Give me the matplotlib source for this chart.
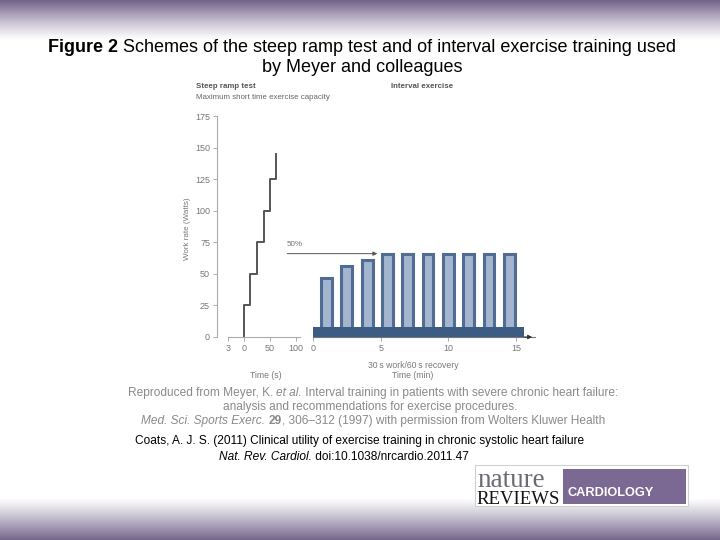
import numpy as np
import matplotlib
matplotlib.use('Agg')
import matplotlib.pyplot as plt
from matplotlib.patches import Rectangle

# --- data ---
ramp_time = [0, 12, 25, 38, 50, 62, 62]          # seconds
ramp_watts = [0, 25, 50, 75, 100, 125, 145]      # watts
ramp_xticks = [-30, 0, 50, 100]
ramp_xlabels = ['3', '0', '50', '100']
watt_ticks = [0, 25, 50, 75, 100, 125, 150, 175]

interval_centres = [1.0, 2.5, 4.0, 5.5, 7.0, 8.5, 10.0, 11.5, 13.0, 14.5]   # minutes
interval_watts = [47, 56, 61, 66, 66, 66, 66, 66, 66, 66]
base_length = 15.6     # minutes
base_watts = 8
interval_xticks = [0, 5, 10, 15]

W, H = 720, 540
fig = plt.figure(figsize=(7.2, 5.4), dpi=100)
SANS = ['Liberation Sans', 'DejaVu Sans']


def fx(px):
    return px / W


def fy(py):
    return 1 - py / H


# background gradient (purple bands top and bottom)
bg = fig.add_axes([0, 0, 1, 1], zorder=-10)
rows = np.arange(H)
top = np.clip(1 - rows / 40.0, 0, 1) ** 1.2
bot = np.clip((rows - 498) / 42.0, 0, 1) ** 1.1
f = np.maximum(top, bot)[:, None, None]
purple = np.array([0.45, 0.39, 0.54])
img = (1 - f) + f * purple
bg.imshow(np.repeat(img, 2, axis=1), aspect='auto', extent=[0, 1, 0, 1])
bg.axis('off')

grey = '#777777'

# --- left panel: steep ramp test ---
axL = fig.add_axes([fx(217), fy(337), fx(300 - 217), 221 / H])
axL.step(ramp_time, ramp_watts, where='pre', color='#555555', lw=1.4)
axL.set_xlim(-52, 108)
axL.set_ylim(0, 175)
axL.set_yticks(watt_ticks)
axL.set_xticks(ramp_xticks)
axL.set_xticklabels(ramp_xlabels)
for s in ['top', 'right']:
    axL.spines[s].set_visible(False)
axL.spines['bottom'].set_bounds(-30, 108)
for s in ['left', 'bottom']:
    axL.spines[s].set_color('#aaaaaa')
    axL.spines[s].set_linewidth(0.8)
axL.tick_params(colors='#aaaaaa', labelcolor=grey, labelsize=6.5, length=3, width=0.7, pad=2)
for t in axL.get_xticklabels() + axL.get_yticklabels():
    t.set_family(SANS)
axL.patch.set_alpha(0)

# --- right panel: interval exercise ---
axR = fig.add_axes([fx(313), fy(337), fx(535 - 313), 221 / H])
axR.bar(interval_centres, interval_watts, width=0.8, color='#a3b5cf',
        edgecolor='#506c92', linewidth=2.2, zorder=2)
axR.bar(0, base_watts, width=base_length, align='edge', color='#3c5c84', zorder=3)
axR.set_xlim(0, 16.4)
axR.set_ylim(0, 175)
axR.set_yticks([])
axR.set_xticks(interval_xticks)
for s in ['top', 'right', 'left']:
    axR.spines[s].set_visible(False)
axR.spines['bottom'].set_color('#777777')
axR.spines['bottom'].set_linewidth(0.8)
axR.tick_params(colors='#aaaaaa', labelcolor=grey, labelsize=6.5, length=3, width=0.7, pad=2)
for t in axR.get_xticklabels():
    t.set_family(SANS)
axR.annotate('', xy=(1.0, 0), xytext=(0.94, 0), xycoords='axes fraction',
             arrowprops=dict(arrowstyle='-|>', color='#333333', lw=0.8, mutation_scale=6),
             annotation_clip=False)
axR.annotate('', xy=(4.75, interval_watts[-1]), xytext=(-1.9, interval_watts[-1]),
             arrowprops=dict(arrowstyle='-|>', color='#555555', lw=0.7, mutation_scale=6,
                             shrinkA=0, shrinkB=0),
             annotation_clip=False)
axR.patch.set_alpha(0)

# --- chart texts ---
fig.text(fx(196), fy(87), 'Steep ramp test', fontsize=5.7, fontweight='bold', color='#555555',
         family=SANS, va='center')
fig.text(fx(196), fy(97.5), 'Maximum short time exercise capacity', fontsize=5.7, color='#666666',
         family=SANS, va='center')
fig.text(fx(391), fy(87), 'Interval exercise', fontsize=5.7, fontweight='bold', color='#555555',
         family=SANS, va='center')
fig.text(fx(187), fy(229), 'Work rate (Watts)', fontsize=5.8, color=grey, rotation=90,
         family=SANS, va='center', ha='center')
fig.text(fx(295), fy(244), '50%', fontsize=5.8, color=grey, family=SANS, va='center', ha='center')
fig.text(fx(266), fy(375), 'Time (s)', fontsize=6.2, color=grey, family=SANS, va='center', ha='center')
fig.text(fx(413), fy(366), '30\u2009s work/60\u2009s recovery', fontsize=6.2, color=grey,
         family=SANS, va='center', ha='center')
fig.text(fx(413), fy(376), 'Time (min)', fontsize=6.2, color=grey, family=SANS, va='center', ha='center')

renderer = fig.canvas.get_renderer()


def width_of(s, **kw):
    a = fig.text(0, 0, '|' + s + '|', **kw)
    b = fig.text(0, 0, '||', **kw)
    w = a.get_window_extent(renderer).width - b.get_window_extent(renderer).width
    a.remove()
    b.remove()
    return w


def line(cx, py, parts, size, color):
    items = []
    for s, w, st in parts:
        kw = dict(fontsize=size, fontweight=w, fontstyle=st, color=color, family=SANS)
        items.append((s, kw, width_of(s, **kw)))
    total = sum(i[2] for i in items)
    x = cx - total / 2
    for s, kw, wd in items:
        fig.text(fx(x), fy(py), s, va='center', ha='left', **kw)
        x += wd


# title
line(362, 47, [('Figure 2', 'bold', 'normal'),
               (' Schemes of the steep ramp test and of interval exercise training used', 'normal', 'normal')],
     13, 'black')
line(362, 67, [('by Meyer and colleagues', 'normal', 'normal')], 13, 'black')

# source lines
src = '#8a8a8a'
fs = 8.6
line(373, 393, [('Reproduced from Meyer, K. ', 'normal', 'normal'), ('et al.', 'normal', 'italic'),
                (' Interval training in patients with severe chronic heart failure:', 'normal', 'normal')],
     fs, src)
line(370, 407, [('analysis and recommendations for exercise procedures.', 'normal', 'normal')], fs, src)
line(373, 421, [('Med. Sci. Sports Exerc.', 'normal', 'italic'),
                ('\u00a0\u200a', 'normal', 'normal'),
                ('29', 'bold', 'normal'),
                (', 306\u2013312 (1997) with permission from Wolters Kluwer Health', 'normal', 'normal')],
     fs, src)
line(360, 441, [('Coats, A. J. S. (2011) Clinical utility of exercise training in chronic systolic heart failure',
                 'normal', 'normal')], fs, 'black')
line(344, 457, [('Nat. Rev. Cardiol.', 'normal', 'italic'),
                (' doi:10.1038/nrcardio.2011.47', 'normal', 'normal')], fs, 'black')

# logo
fig.patches.append(Rectangle((fx(475), fy(506)), fx(688 - 475), (506 - 465) / H,
                             transform=fig.transFigure, facecolor='white', edgecolor='#d0d0d0',
                             lw=0.8, zorder=-5))
fig.patches.append(Rectangle((fx(563), fy(504)), fx(686 - 563), (504 - 469) / H,
                             transform=fig.transFigure, facecolor='#7b6893', edgecolor='none'))
fig.text(fx(477), fy(487), 'nature', fontsize=19.5, color='#6d6a78', family=['Liberation Serif'],
         va='baseline', ha='left')
fig.text(fx(476), fy(504), 'REVIEWS', fontsize=13.5, color='#111111', family=['Liberation Serif'],
         va='baseline', ha='left')
fig.text(fx(568), fy(493), 'CARDIOLOGY', fontsize=9.2, fontweight='bold', color='white',
         family=SANS, va='center', ha='left')

fig.savefig('out.png', dpi=100)
